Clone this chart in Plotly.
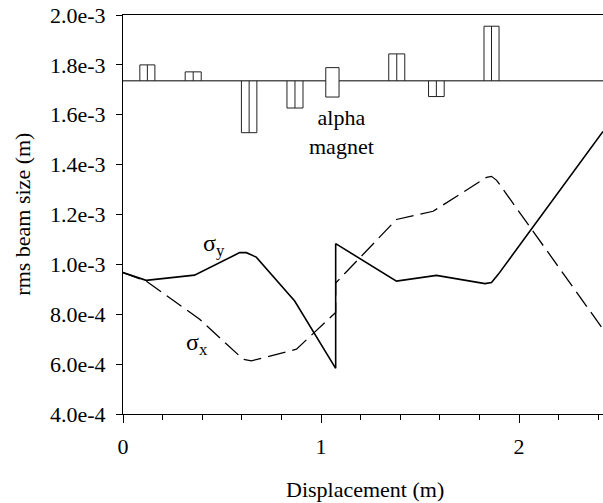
import plotly.graph_objects as go

# ---- data ----
sigma_y_x = [0, 0.117, 0.361, 0.589, 0.623, 0.673, 0.867, 1.074, 1.074, 1.381, 1.583, 1.828, 1.861, 1.895, 2.424]
sigma_y_val = [0.967e-3, 0.936e-3, 0.957e-3, 1.047e-3, 1.047e-3, 1.029e-3, 0.853e-3, 0.583e-3, 1.083e-3,
               0.933e-3, 0.956e-3, 0.923e-3, 0.927e-3, 0.960e-3, 1.533e-3]

sigma_x_x = [0, 0.117, 0.387, 0.606, 0.648, 0.876, 1.074, 1.074, 1.381, 1.566, 1.836, 1.861, 1.887, 2.424]
sigma_x_val = [0.967e-3, 0.933e-3, 0.780e-3, 0.620e-3, 0.613e-3, 0.660e-3, 0.807e-3, 0.925e-3,
               1.180e-3, 1.213e-3, 1.349e-3, 1.353e-3, 1.337e-3, 0.740e-3]

# quadrupole magnet schematic (lattice bars about a baseline)
lattice_baseline = 1.736e-3
lattice_x_range = [0, 2.424]
quad_start = [0.085, 0.314, 0.598, 0.828, 1.342, 1.543, 1.823]
quad_end = [0.161, 0.395, 0.676, 0.909, 1.423, 1.622, 1.899]
quad_value = [1.800e-3, 1.772e-3, 1.528e-3, 1.627e-3, 1.844e-3, 1.673e-3, 1.955e-3]

alpha_start = 1.024
alpha_end = 1.091
alpha_low = 1.671e-3
alpha_high = 1.789e-3

y_tick_vals = [4e-4, 6e-4, 8e-4, 1.0e-3, 1.2e-3, 1.4e-3, 1.6e-3, 1.8e-3, 2.0e-3]
y_tick_text = ["4.0e-4", "6.0e-4", "8.0e-4", "1.0e-3", "1.2e-3", "1.4e-3", "1.6e-3", "1.8e-3", "2.0e-3"]
x_tick_vals = [0, 1, 2]
x_tick_text = ["0", "1", "2"]

FONT = "Liberation Serif"
fig = go.Figure()

# baseline of magnet schematic
fig.add_trace(go.Scatter(x=lattice_x_range, y=[lattice_baseline] * 2, mode="lines",
                         line=dict(color="black", width=1), showlegend=False, hoverinfo="skip"))

# quadrupole rectangles with centre divider
qx, qy = [], []
for x0, x1, v in zip(quad_start, quad_end, quad_value):
    xm = (x0 + x1) / 2
    qx += [x0, x0, x1, x1, None, xm, xm, None]
    qy += [lattice_baseline, v, v, lattice_baseline, None, lattice_baseline, v, None]
fig.add_trace(go.Scatter(x=qx, y=qy, mode="lines", line=dict(color="#222", width=1),
                         showlegend=False, hoverinfo="skip"))

# alpha magnet box
fig.add_trace(go.Scatter(x=[alpha_start, alpha_start, alpha_end, alpha_end, alpha_start],
                         y=[alpha_low, alpha_high, alpha_high, alpha_low, alpha_low],
                         mode="lines", line=dict(color="#222", width=1), fill="toself",
                         fillcolor="white", showlegend=False, hoverinfo="skip"))

# beam sizes
fig.add_trace(go.Scatter(x=sigma_x_x, y=sigma_x_val, mode="lines",
                         line=dict(color="black", width=1.3, dash="18px,7px"), showlegend=False))
fig.add_trace(go.Scatter(x=sigma_y_x, y=sigma_y_val, mode="lines",
                         line=dict(color="black", width=1.6), showlegend=False))

fig.add_annotation(x=0.46, y=1.076e-3, text="σ<sub>y</sub>", showarrow=False,
                   font=dict(family=FONT, size=24, color="black"))
fig.add_annotation(x=0.376, y=0.68e-3, text="σ<sub>x</sub>", showarrow=False,
                   font=dict(family=FONT, size=24, color="black"))
fig.add_annotation(x=1.105, y=1.53e-3, text="alpha<br>magnet", showarrow=False,
                   font=dict(family=FONT, size=22, color="black"))

fig.add_annotation(xref="paper", yref="paper", x=-0.21, y=0.5, text="rms beam size (m)",
                   textangle=-90, showarrow=False, xanchor="center", yanchor="middle",
                   font=dict(family=FONT, size=22, color="black"))
fig.add_annotation(xref="paper", yref="paper", x=0.504, y=-0.19, text="Displacement (m)",
                   showarrow=False, xanchor="center", yanchor="middle",
                   font=dict(family=FONT, size=22, color="black"))

fig.update_layout(
    width=603, height=503,
    margin=dict(l=123, r=0, t=15, b=89),
    paper_bgcolor="white", plot_bgcolor="white",
    font=dict(family=FONT, size=22, color="black"),
    xaxis=dict(range=[0, 2.424], tickvals=x_tick_vals, ticktext=x_tick_text,
               ticks="outside", ticklen=8, tickcolor="black", showgrid=False, zeroline=False,
               showline=True, linecolor="black", linewidth=1, mirror=True,
               minor=dict(dtick=0.2, tick0=0, ticks="outside", ticklen=5, tickcolor="black", showgrid=False),
               tickfont=dict(family=FONT, size=22, color="black"), ticklabelstandoff=5),
    yaxis=dict(range=[4e-4, 2e-3], tickvals=y_tick_vals, ticktext=y_tick_text,
               ticks="outside", ticklen=6, tickcolor="black", showgrid=False, zeroline=False,
               showline=True, linecolor="black", linewidth=1,
               tickfont=dict(family=FONT, size=22, color="black"), ticklabelstandoff=6),
)

fig.write_html("out.html")
